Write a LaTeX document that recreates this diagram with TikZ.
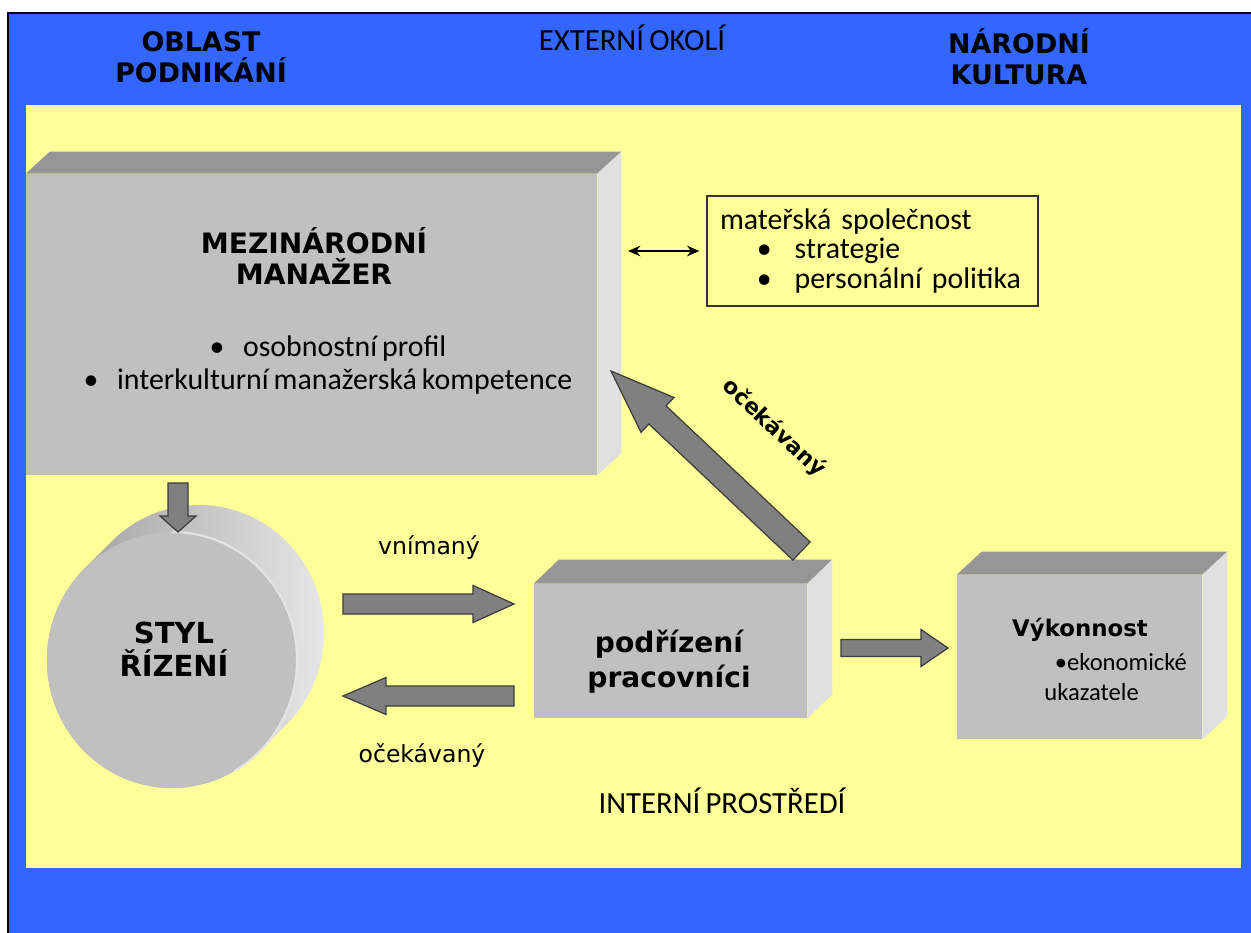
\documentclass[tikz,border=0pt]{standalone}
\usepackage{fontspec}
\setmainfont{DejaVu Sans}
\newfontfamily\calfont[WordSpace=0.75]{Carlito}
\usetikzlibrary{calc,arrows.meta}

\definecolor{outerblue}{HTML}{3366FF}
\definecolor{envyellow}{HTML}{FFFF99}
\definecolor{facegray}{HTML}{C0C0C0}
\definecolor{topgray}{HTML}{969696}
\definecolor{sidegray}{HTML}{E0E0E0}
\definecolor{arrowgray}{HTML}{808080}
\definecolor{arrowedge}{HTML}{3C3C3C}
\definecolor{cyldark}{HTML}{9A9A9A}
\definecolor{cyllight}{HTML}{E8E8E8}

\tikzset{
  front/.style={fill=facegray, inner sep=0pt},
  topside/.style={fill=topgray},
  rightside/.style={fill=sidegray},
  blk/.style={fill=arrowgray, draw=arrowedge, line width=0.7pt, line join=miter},
  hdr/.style={font=\bfseries\fontsize{15.3}{17.6}\selectfont, align=center, inner sep=0pt},
  cal/.style={font=\calfont\fontsize{17.5}{20}\selectfont, inner sep=0pt},
  lbl/.style={font=\fontsize{13.4}{16}\selectfont, inner sep=0pt}
}

\newcommand{\blockarr}[5]{%
  \coordinate (h) at ($(#2)!#5!(#1)$);
  \draw[blk] ($(#1)!#3!90:(#2)$) -- ($(h)!#3!90:(#2)$) -- ($(h)!#4!90:(#2)$) -- (#2)
    -- ($(h)!#4!-90:(#2)$) -- ($(h)!#3!-90:(#2)$) -- ($(#1)!#3!-90:(#2)$) -- cycle;
}

\begin{document}
\begin{tikzpicture}[x=0.02cm, y=-0.02cm]
	\useasboundingbox (0,0) rectangle (1251,933);
	\fill[white] (0,0) rectangle (1251,933);
	\fill[outerblue] (8,13) rectangle (1251,933);
	\draw[black, line width=1.2pt] (8,933) -- (8,13) -- (1251,13);
	\fill[envyellow] (26,105) rectangle (1241,868);

	\node[hdr] (biz) at (201,57) {OBLAST\\PODNIKÁNÍ};
	\node[hdr] (nat) at (1019,57) {NÁRODNÍ\\KULTURA};
	\node[cal] (ext) at (632,38) {EXTERNÍ OKOLÍ};
	\node[cal] (int) at (722,801) {INTERNÍ PROSTŘEDÍ};

	\node[front, minimum width=11.42cm, minimum height=6.02cm] (mgr) at (311.5,324.5) {};
	\fill[topside] (mgr.north west) -- ++(24,-22) -- ($(mgr.north east)+(24,-22)$) -- (mgr.north east) -- cycle;
	\fill[rightside] (mgr.north east) -- ++(24,-22) -- ($(mgr.south east)+(24,-22)$) -- (mgr.south east) -- cycle;
	\node[hdr, font=\bfseries\fontsize{16}{18}\selectfont] (mgrt) at (314,256) {MEZINÁRODNÍ\\MANAŽER};
	\node[cal, font=\calfont\fontsize{17}{19.3}\selectfont, align=center] (mgrb) at (328,365)
		{\makebox[19pt][l]{\textbullet}osobnostní profil\\ \makebox[19pt][l]{\textbullet}interkulturní manažerská kompetence};

	\node[draw=black!80, line width=0.8pt, fill=envyellow, minimum width=6.62cm, minimum height=2.2cm,
		text width=6.1cm, inner xsep=0.26cm, align=left, font=\calfont\fontsize{17}{17}\selectfont] (parent) at (872.5,251)
		{mateřská společnost\\ \hspace*{21pt}\makebox[21.5pt][l]{\textbullet}strategie\\ \hspace*{21pt}\makebox[21.5pt][l]{\textbullet}personální politika};
	\coordinate (mgr-r) at (628,251);
	\draw[{Stealth[length=7pt,width=6pt]}-{Stealth[length=7pt,width=6pt]}, line width=0.9pt, shorten >=0.14cm] (mgr-r) -- (parent.west);

	\node[front, minimum width=5.46cm, minimum height=2.68cm] (sub) at (670.5,651) {};
	\fill[topside] (sub.north west) -- ++(25,-24) -- ($(sub.north east)+(25,-24)$) -- (sub.north east) -- cycle;
	\fill[rightside] (sub.north east) -- ++(25,-24) -- ($(sub.south east)+(25,-24)$) -- (sub.south east) -- cycle;
	\node[hdr, font=\bfseries\fontsize{16}{20}\selectfont] (subt) at (669,662) {podřízení\\pracovníci};

	\node[front, minimum width=4.9cm, minimum height=3.28cm] (perf) at (1079.5,657) {};
	\fill[topside] (perf.north west) -- ++(25,-23) -- ($(perf.north east)+(25,-23)$) -- (perf.north east) -- cycle;
	\fill[rightside] (perf.north east) -- ++(25,-23) -- ($(perf.south east)+(25,-23)$) -- (perf.south east) -- cycle;
	\node[hdr, font=\bfseries\fontsize{13}{16}\selectfont] (perft) at (1080,630) {Výkonnost};
	\node[cal, font=\calfont\fontsize{14}{17}\selectfont, align=left, anchor=west] (perfb) at (1044,677)
		{\hspace*{6pt}\textbullet ekonomické\\ukazatele};

	\coordinate (styl) at (172,660);
	\begin{scope}
		\clip foreach \t in {0,3,...,27} {({172+\t},{660-\t}) ellipse [x radius=125, y radius=128]};
		\shade[left color=cyldark, right color=cyllight] (40,495) rectangle (330,795);
	\end{scope}
	\fill[facegray] (styl) ellipse [x radius=125, y radius=128];
	\draw[white!55!facegray, line width=1.2pt] (styl) ++(0,-128) arc [start angle=90, end angle=-60, x radius=125, y radius=-128];
	\node[hdr, font=\bfseries\fontsize{16.5}{19}\selectfont] (stylt) at (174,649) {STYL\\ŘÍZENÍ};

	\coordinate (mgr-dn) at (178,483);
	\coordinate (styl-up) at (178,532);
	\blockarr{mgr-dn}{styl-up}{0.2cm}{0.36cm}{0.32cm}

	\coordinate (styl-r1) at (343,604);
	\coordinate (sub-l1) at (514,604);
	\blockarr{styl-r1}{sub-l1}{0.2cm}{0.37cm}{0.82cm}
	\coordinate (sub-l2) at (514,696);
	\coordinate (styl-r2) at (343,696);
	\blockarr{sub-l2}{styl-r2}{0.2cm}{0.37cm}{0.86cm}

	\coordinate (sub-r) at (841,648);
	\coordinate (perf-l) at (948,648);
	\blockarr{sub-r}{perf-l}{0.17cm}{0.37cm}{0.54cm}

	\coordinate (sub-up) at (801.5,551);
	\coordinate (mgr-in) at (611,371);
	\blockarr{sub-up}{mgr-in}{0.25cm}{0.48cm}{1.28cm}

	\node[lbl] (vnl) at (429,548) {vnímaný};
	\node[lbl] (ocl) at (422,756) {očekávaný};
	\node[lbl, font=\bfseries\fontsize{12.5}{15}\selectfont, rotate=-43] (ocd) at (774,428) {očekávaný};
\end{tikzpicture}
\end{document}
